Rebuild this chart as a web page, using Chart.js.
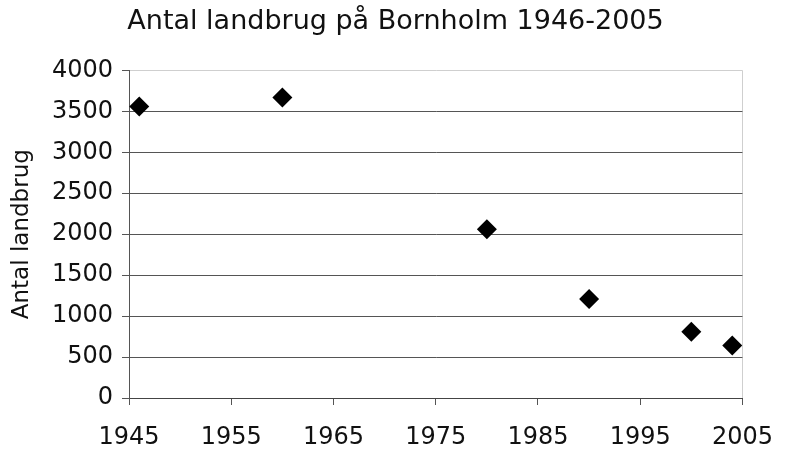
<!DOCTYPE html>
<html>
<head>
<meta charset="utf-8">
<script src="https://cdn.jsdelivr.net/npm/chart.js@4"></script>
<style>
  html, body { margin: 0; padding: 0; background: #fff; }
  #wrap { width: 791px; height: 450px; }
</style>
</head>
<body>
<div id="wrap"><canvas id="farmChart" width="791" height="450"></canvas></div>
<script>
const years = [1946, 1960, 1980, 1990, 2000, 2004];
const farms = [3560, 3670, 2060, 1210, 810, 640];
const xTicks = [1945, 1955, 1965, 1975, 1985, 1995, 2005];
const yTicks = [0, 500, 1000, 1500, 2000, 2500, 3000, 3500, 4000];

const fontFamily = "'DejaVu Sans', sans-serif";

const ctx = document.getElementById('farmChart').getContext('2d');

new Chart(ctx, {
    type: 'scatter',
    data: {
        datasets: [{
            data: years.map((y, i) => ({ x: y, y: farms[i] })),
            pointStyle: 'rectRot',
            pointRadius: 10,
            pointHoverRadius: 10,
            backgroundColor: '#000',
            borderColor: '#000',
            borderWidth: 0
        }]
    },
    options: {
        responsive: false,
        animation: false,
        layout: {
            padding: 0
        },
        plugins: {
            legend: { display: false },
            tooltip: { enabled: false },
            title: {
                display: true,
                text: 'Antal landbrug på Bornholm 1946-2005',
                color: '#111',
                font: { family: fontFamily, size: 27, weight: 'normal' },
                padding: { top: 6, bottom: 32 }
            }
        },
        scales: {
            x: {
                type: 'linear',
                min: 1945,
                max: 2005,
                afterBuildTicks: scale => {
                    scale.ticks = xTicks.map(v => ({ value: v }));
                },
                afterFit: scale => { scale.height = 52; },
                grid: {
                    drawOnChartArea: true,
                    color: c => (c.tick && c.tick.value === 2005) ? '#cfcfcf' : 'rgba(0,0,0,0)',
                    tickColor: '#555',
                    tickLength: 7
                },
                border: { color: '#444', width: 1 },
                ticks: {
                    color: '#111',
                    padding: 18,
                    font: { family: fontFamily, size: 24 },
                    maxRotation: 0,
                    callback: v => String(v)
                }
            },
            y: {
                min: 0,
                max: 4000,
                afterBuildTicks: scale => {
                    scale.ticks = yTicks.map(v => ({ value: v }));
                },
                afterFit: scale => { scale.width = 129; },
                grid: {
                    color: c => (c.tick && c.tick.value === 4000) ? '#cfcfcf' : '#555',
                    tickColor: '#555',
                    tickLength: 7
                },
                border: { color: '#555', width: 1 },
                ticks: {
                    color: '#111',
                    padding: 9,
                    font: { family: fontFamily, size: 24 },
                    callback: v => String(v)
                },
                title: {
                    display: true,
                    text: 'Antal landbrug',
                    color: '#111',
                    font: { family: fontFamily, size: 23 },
                    padding: { top: 8, bottom: 0 }
                }
            },
            // empty right-hand axis that only reserves the margin right of the plot
            yRight: {
                position: 'right',
                min: 0,
                max: 4000,
                afterFit: scale => { scale.width = 48; },
                grid: { display: false },
                border: { display: false },
                ticks: { display: false }
            }
        }
    }
});
</script>
</body>
</html>
